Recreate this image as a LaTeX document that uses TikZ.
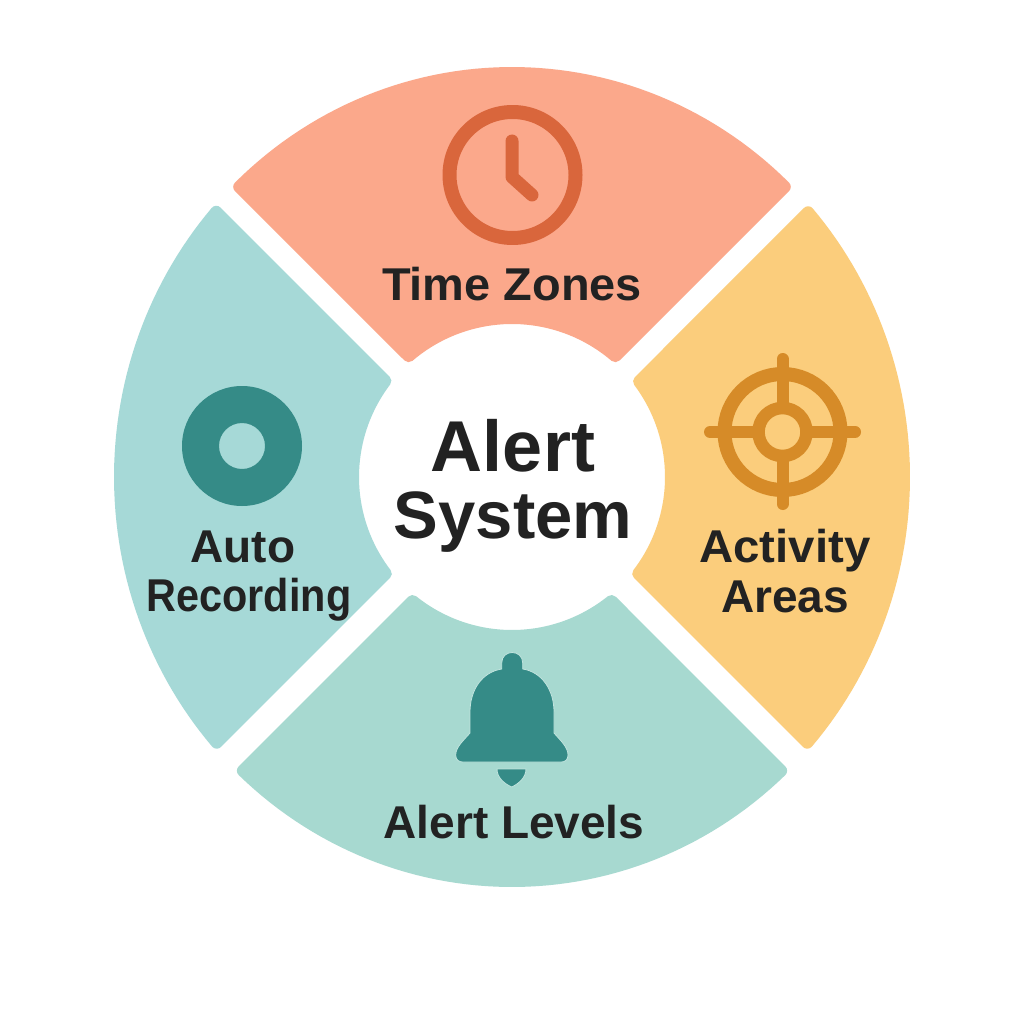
\documentclass[tikz,border=0pt]{standalone}
\usepackage{graphicx}
\usepackage{fontspec}
\setmainfont{Liberation Sans}
\definecolor{topc}{HTML}{FBA88B}
\definecolor{rightc}{HTML}{FBCD7C}
\definecolor{botc}{HTML}{A7D9D0}
\definecolor{leftc}{HTML}{A6D9D7}
\definecolor{clockc}{HTML}{D9663C}
\definecolor{targetc}{HTML}{D68B28}
\definecolor{tealc}{HTML}{358B87}
\definecolor{inkc}{HTML}{222222}
\tikzset{
  sector/.style={fill=#1,draw=#1,line width=12pt,line join=round},
  biglabel/.style={anchor=base,text=inkc,inner sep=0pt,font=\bfseries\fontsize{#1}{#1}\selectfont},
  seclabel/.style={anchor=base,text=inkc,inner sep=0pt,font=\bfseries\fontsize{46}{46}\selectfont},
  clockline/.style={draw=clockc,line cap=round,line join=round},
  targetline/.style={draw=targetc,line cap=round},
}
\begin{document}
\begin{tikzpicture}[x=1pt,y=-1pt]
\useasboundingbox (0,0) rectangle (1024,1024);
\fill[white] (0,0) rectangle (1024,1024);
% sectors
\path[sector=topc] plot[domain=225.9:314.1,samples=60] ({512+392*cos(\x)},{477+404*sin(\x)})
  -- plot[domain=310.54:229.46,samples=40] ({512+159*cos(\x)},{477+159*sin(\x)}) -- cycle;
\path[sector=rightc] plot[domain=-40.94:41.13,samples=60] ({512+392*cos(\x)},{477+404*sin(\x)})
  -- plot[domain=37.46:-36.95,samples=40] ({512+159*cos(\x)},{477+159*sin(\x)}) -- cycle;
\path[sector=botc] plot[domain=46.64:133.36,samples=60] ({512+392*cos(\x)},{477+404*sin(\x)})
  -- plot[domain=128.75:51.25,samples=40] ({512+159*cos(\x)},{477+159*sin(\x)}) -- cycle;
\path[sector=leftc] plot[domain=138.87:221.03,samples=60] ({512+392*cos(\x)},{477+404*sin(\x)})
  -- plot[domain=217.2:142.54,samples=40] ({512+159*cos(\x)},{477+159*sin(\x)}) -- cycle;
% clock
\draw[clockline,line width=14pt] (512.5,175) circle[radius=63];
\draw[clockline,line width=13pt] (512,141) -- (512,177) -- (532,195);
% target
\draw[targetline,line width=14pt] (782.5,432) circle[radius=58];
\draw[targetline,line width=12.5pt] (782.5,432) circle[radius=24];
\draw[targetline,line width=12pt] (782.5,359) -- (782.5,402);
\draw[targetline,line width=12pt] (782.5,462) -- (782.5,504);
\draw[targetline,line width=12pt] (710,432) -- (752,432);
\draw[targetline,line width=12pt] (813,432) -- (855,432);
% donut
\fill[tealc,even odd rule] (242,446) circle[radius=60] (242,446) circle[radius=23];
% bell
\fill[tealc,draw=botc!70!white,line width=0.8pt]
  (501.7,669) -- (501.7,663) .. controls (501.7,649) and (522.7,649) .. (522.7,663) -- (522.7,669)
  .. controls (542,672) and (554,690) .. (554,712)
  -- (554,733) .. controls (560,740) and (568,747) .. (568,755)
  .. controls (568,760) and (565,762) .. (561,762)
  -- (463,762) .. controls (459,762) and (455.7,760) .. (455.7,755)
  .. controls (455.7,747) and (464,740) .. (470,733)
  -- (470,712) .. controls (470,690) and (482,672) .. (501.7,669) -- cycle;
\fill[tealc,draw=botc!70!white,line width=0.8pt]
  (497,769) -- (526,769) .. controls (526,778) and (518,784) .. (511.7,787)
  .. controls (505,784) and (497,778) .. (497,769) -- cycle;
% labels
\node[biglabel=72] (alert) at (513,471) {Alert};
\node[biglabel=67] (system) at (513,538) {System};
\node[seclabel] (timezones) at (512,300) {\scalebox{1.02}[1]{Time Zones}};
\node[seclabel] (activity) at (785,562) {\scalebox{1.03}[1]{Activity}};
\node[seclabel] (areas) at (785,612) {Areas};
\node[seclabel] (auto) at (243,562) {Auto};
\node[seclabel] (recording) at (249,611) {\scalebox{.9}[1]{Recording}};
\node[seclabel] (alertlevels) at (514,838) {Alert Levels};
\end{tikzpicture}
\end{document}
